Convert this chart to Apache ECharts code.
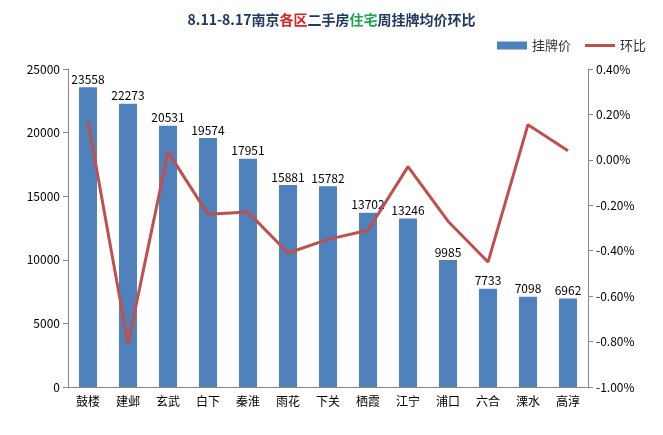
<!DOCTYPE html>
<html>
<head>
<meta charset="UTF-8">
<script src="https://cdn.jsdelivr.net/npm/echarts@6/dist/echarts.min.js"></script>
</head>
<body style="margin:0;background:#fff">
<div id="main" style="width:663px;height:435px"></div>
<script>
var districts = ['鼓楼', '建邺', '玄武', '白下', '秦淮', '雨花', '下关', '栖霞', '江宁', '浦口', '六合', '溧水', '高淳'];
var prices = [23558, 22273, 20531, 19574, 17951, 15881, 15782, 13702, 13246, 9985, 7733, 7098, 6962];
var changes = [0.17, -0.81, 0.035, -0.24, -0.23, -0.41, -0.35, -0.31, -0.03, -0.27, -0.45, 0.155, 0.04];

var chart = echarts.init(document.getElementById('main'));
var font = '"Noto Sans CJK SC", sans-serif';
chart.setOption({
    animation: false,
    textStyle: { fontFamily: font },
    title: {
        text: '{d|8.11-8.17南京}{r|各区}{n|二手房}{g|住宅}{d|周挂牌均价环比}',
        left: 'center', top: 8,
        textStyle: {
            rich: {
                d: { color: '#1f3864', fontWeight: 'bold', fontSize: 14, fontFamily: font },
                r: { color: '#e02020', fontWeight: 'bold', fontSize: 14, fontFamily: font },
                n: { color: '#1f3864', fontSize: 14, fontFamily: font },
                g: { color: '#1aa550', fontWeight: 'bold', fontSize: 14, fontFamily: font }
            }
        }
    },
    legend: {
        right: 12, top: 34, itemWidth: 30, itemHeight: 8, itemGap: 14,
        textStyle: { fontSize: 13, color: '#333' },
        data: [{ name: '挂牌价', icon: 'rect' }, { name: '环比', icon: 'path://M0,0h30v3h-30z' }]
    },
    grid: { left: 68, right: 75, top: 69, bottom: 48 },
    xAxis: {
        type: 'category', data: districts,
        axisTick: { show: false },
        axisLine: { lineStyle: { color: '#888' } },
        axisLabel: { color: '#000', fontSize: 12 }
    },
    yAxis: [{
        type: 'value', min: 0, max: 25000, interval: 5000,
        axisLine: { show: true, lineStyle: { color: '#888' } },
        axisTick: { show: true },
        splitLine: { show: false },
        axisLabel: { color: '#000', fontSize: 12, formatter: function (v) { return String(v); } }
    }, {
        type: 'value', min: -1, max: 0.4, interval: 0.2,
        axisLine: { show: true, lineStyle: { color: '#888' } },
        axisTick: { show: true },
        splitLine: { show: false },
        axisLabel: { color: '#000', fontSize: 12, formatter: function (v) { return v.toFixed(2) + '%'; } }
    }],
    series: [{
        name: '挂牌价', type: 'bar', data: prices, barWidth: 18,
        itemStyle: { color: '#4f81bd' },
        label: { show: true, position: 'top', color: '#000', fontSize: 12, distance: 2 }
    }, {
        name: '环比', type: 'line', yAxisIndex: 1, data: changes,
        symbol: 'none', lineStyle: { color: '#c0504d', width: 3 }, itemStyle: { color: '#c0504d' }
    }]
});
</script>
</body>
</html>
